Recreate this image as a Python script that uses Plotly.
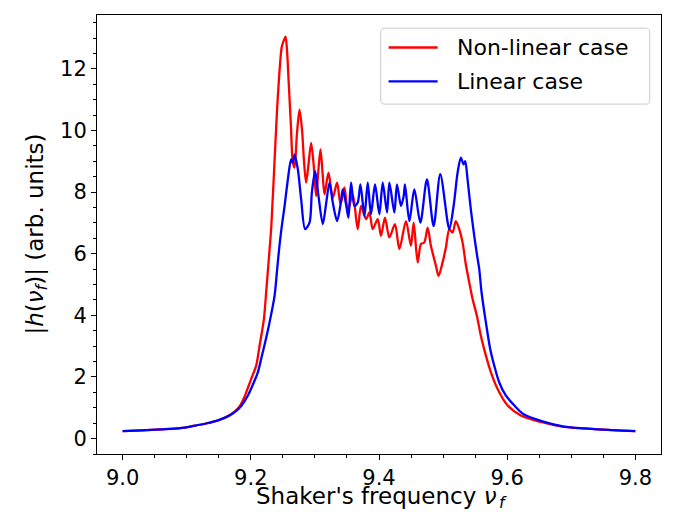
import plotly.graph_objects as go

# Non-linear case (red)
freq_nonlinear = [9.000, 9.030, 9.060, 9.090, 9.110, 9.130, 9.150, 9.165, 9.175, 9.183,
                  9.190, 9.195, 9.2006, 9.2084, 9.2137, 9.2204, 9.2245, 9.2293, 9.2320, 9.2370,
                  9.2422, 9.2484, 9.2520, 9.2542, 9.2565, 9.2589, 9.2625, 9.2656, 9.2682, 9.2720,
                  9.2760, 9.2800, 9.2830, 9.2863, 9.2900, 9.2941, 9.2980, 9.3019, 9.3050, 9.3087,
                  9.3120, 9.3150, 9.3212, 9.3279, 9.3346, 9.3399, 9.3461, 9.3512, 9.3590, 9.3668,
                  9.3720, 9.3798, 9.3850, 9.3902, 9.3980, 9.4031, 9.4093, 9.4162, 9.4249, 9.4318,
                  9.4421, 9.4498, 9.4541, 9.4603, 9.4654, 9.4707, 9.4759, 9.4810, 9.4888, 9.4930,
                  9.4992, 9.5044, 9.5097, 9.5148, 9.5199, 9.5252, 9.5304, 9.5355, 9.5408, 9.5460,
                  9.5527, 9.5589, 9.5667, 9.5745, 9.5849, 9.6005, 9.6212, 9.6523, 9.6888, 9.7200,
                  9.7500, 9.7800, 9.8000]
amp_nonlinear = [0.24, 0.27, 0.30, 0.34, 0.41, 0.49, 0.60, 0.74, 0.88, 1.06,
                 1.35, 1.62, 1.94, 2.37, 3.02, 3.88, 4.90, 6.15, 6.90, 9.00,
                 11.11, 12.73, 12.95, 13.05, 12.60, 11.65, 10.20, 8.96, 8.80, 9.90,
                 10.68, 10.00, 9.00, 8.31, 8.90, 9.60, 8.90, 7.87, 8.60, 9.39,
                 8.60, 7.93, 8.63, 7.82, 8.31, 7.61, 8.15, 7.39, 7.93, 6.80,
                 7.55, 7.12, 7.34, 6.80, 7.12, 6.58, 7.17, 6.53, 6.96, 6.15,
                 7.06, 6.26, 7.01, 5.72, 6.31, 6.37, 6.85, 6.26, 5.61, 5.28,
                 5.72, 6.20, 6.80, 6.69, 7.06, 6.80, 6.37, 5.65, 5.07, 4.53,
                 3.99, 3.34, 2.70, 2.16, 1.62, 1.08, 0.75, 0.54, 0.38, 0.33,
                 0.29, 0.26, 0.24]

# Linear case (blue)
freq_linear = [9.000, 9.030, 9.060, 9.090, 9.110, 9.130, 9.150, 9.165, 9.175, 9.1850,
               9.1955, 9.2048, 9.2111, 9.2162, 9.2224, 9.2293, 9.2371, 9.2411, 9.2449, 9.2490,
               9.2527, 9.2578, 9.2629, 9.2656, 9.2682, 9.2734, 9.2785, 9.2847, 9.2916, 9.2952,
               9.3003, 9.3056, 9.3123, 9.3174, 9.3227, 9.3279, 9.3346, 9.3408, 9.3435, 9.3486,
               9.3523, 9.3564, 9.3617, 9.3668, 9.3710, 9.3773, 9.3824, 9.3875, 9.3938, 9.4006,
               9.4058, 9.4125, 9.4162, 9.4240, 9.4280, 9.4343, 9.4385, 9.4405, 9.4474, 9.4551,
               9.4645, 9.4748, 9.4852, 9.4956, 9.5097, 9.5164, 9.5226, 9.5277, 9.5319, 9.5346,
               9.5382, 9.5433, 9.5486, 9.5530, 9.5564, 9.5600, 9.5667, 9.5735, 9.5798, 9.5875,
               9.5978, 9.6109, 9.6250, 9.6550, 9.6888, 9.7200, 9.7500, 9.7800, 9.8000]
amp_linear = [0.24, 0.27, 0.30, 0.34, 0.41, 0.49, 0.60, 0.73, 0.86, 1.06,
              1.40, 1.83, 2.16, 2.59, 3.13, 3.78, 4.64, 5.50, 6.30, 7.00,
              7.55, 8.41, 9.06, 8.96, 9.22, 8.74, 7.77, 6.80, 7.01, 7.98,
              8.68, 7.87, 6.96, 7.61, 8.31, 7.66, 7.06, 7.71, 8.09, 7.61,
              7.17, 8.31, 7.55, 7.66, 8.25, 7.23, 8.31, 7.28, 8.25, 7.28,
              8.31, 7.34, 8.31, 7.34, 8.25, 7.55, 7.87, 8.25, 7.06, 8.09,
              7.01, 8.41, 6.90, 8.58, 6.80, 7.55, 8.63, 9.12, 8.90, 9.01,
              8.41, 7.44, 6.58, 5.95, 5.50, 4.75, 3.78, 2.91, 2.37, 1.83,
              1.40, 1.08, 0.80, 0.56, 0.39, 0.33, 0.29, 0.26, 0.24]

series_names = ["Non-linear case", "Linear case"]
series_colors = ["#ff0000", "#0000ff"]

x_ticks = [9.0, 9.2, 9.4, 9.6, 9.8]
y_ticks = [0, 2, 4, 6, 8, 10, 12]

FONT = "DejaVu Sans"
TICK_SIZE = 21
LEGEND_SIZE = 22
LABEL_SIZE = 23

fig = go.Figure()
for fx, fy, nm, col in [(freq_nonlinear, amp_nonlinear, series_names[0], series_colors[0]),
                        (freq_linear, amp_linear, series_names[1], series_colors[1])]:
    fig.add_trace(go.Scatter(x=fx, y=fy, mode="lines", name=nm, showlegend=False,
                             line=dict(color=col, width=2.3, shape="spline", smoothing=0.8)))

axis_common = dict(showline=True, linecolor="black", linewidth=1, mirror=True,
                   ticks="outside", ticklen=5, tickwidth=1, tickcolor="black",
                   showgrid=False, zeroline=False, automargin=False,
                   tickfont=dict(family=FONT, size=TICK_SIZE, color="black"))

fig.update_xaxes(range=[8.96, 9.84], tickvals=x_ticks,
                 ticktext=[f"{v:.1f}" for v in x_ticks],
                 minor=dict(dtick=0.05, tick0=9.0, ticks="outside", ticklen=3,
                            tickcolor="black", showgrid=False),
                 **axis_common)
fig.update_yaxes(range=[-0.5, 13.75], tickvals=y_ticks,
                 ticktext=[str(v) for v in y_ticks],
                 minor=dict(dtick=0.5, tick0=0, ticks="outside", ticklen=3,
                            tickcolor="black", showgrid=False),
                 **axis_common)

# x-axis title: main text + subscript placed right after it
fig.add_annotation(text="Shaker's frequency <i>ν</i>",
                   xref="paper", yref="paper", x=0.7104, y=-0.1276,
                   xanchor="right", yanchor="bottom", showarrow=False, borderpad=0,
                   font=dict(family=FONT, size=LABEL_SIZE, color="black"))
fig.add_annotation(text="<i>f</i>",
                   xref="paper", yref="paper", x=0.7104, y=-0.1344,
                   xanchor="left", yanchor="bottom", showarrow=False, borderpad=0,
                   font=dict(family=FONT, size=16, color="black"))
# y-axis title
fig.add_annotation(text="|<i>h</i>(<i>ν</i><sub><i>f</i></sub>)| (arb. units)",
                   xref="paper", yref="paper", x=-0.108, y=0.5, textangle=-90,
                   xanchor="center", yanchor="middle", showarrow=False,
                   font=dict(family=FONT, size=LABEL_SIZE, color="black"))

# matplotlib-style legend box (rounded frame, long line samples)
bx0, bx1, by0, by1 = 0.503, 0.980, 0.797, 0.970
rx, ry = 0.0071, 0.0091
frame = (f"M {bx0+rx},{by0} L {bx1-rx},{by0} Q {bx1},{by0} {bx1},{by0+ry} "
         f"L {bx1},{by1-ry} Q {bx1},{by1} {bx1-rx},{by1} L {bx0+rx},{by1} "
         f"Q {bx0},{by1} {bx0},{by1-ry} L {bx0},{by0+ry} Q {bx0},{by0} {bx0+rx},{by0} Z")
fig.add_shape(type="path", path=frame, xref="paper", yref="paper",
              line=dict(color="#cccccc", width=1), fillcolor="rgba(255,255,255,0.8)",
              layer="above")
legend_rows = [0.926, 0.849]
for row_y, nm, col in zip(legend_rows, series_names, series_colors):
    fig.add_shape(type="line", xref="paper", yref="paper",
                  x0=0.517, x1=0.604, y0=row_y, y1=row_y,
                  line=dict(color=col, width=2.3), layer="above")
    fig.add_annotation(text=nm, xref="paper", yref="paper", x=0.635, y=row_y,
                       xanchor="left", yanchor="middle", showarrow=False,
                       font=dict(family=FONT, size=LEGEND_SIZE, color="black"))

fig.update_layout(
    width=673, height=512,
    margin=dict(l=89, r=20, t=7, b=66),
    paper_bgcolor="white", plot_bgcolor="white",
    font=dict(family=FONT, size=TICK_SIZE, color="black"),
    showlegend=False,
)

fig.write_html("out.html")
